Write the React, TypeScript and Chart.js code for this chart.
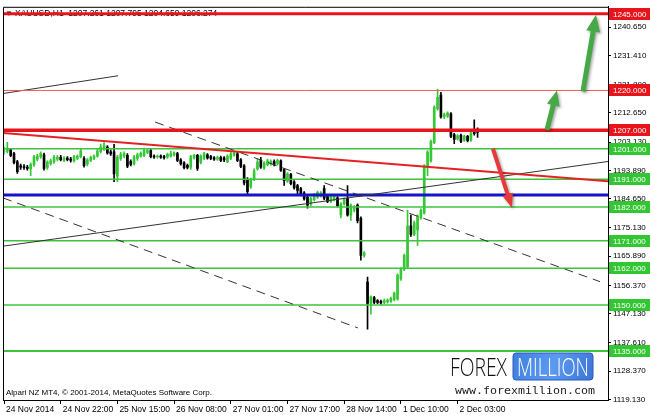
import React, { useEffect, useRef } from 'react';
import { Chart, registerables } from 'chart.js';
Chart.register(...registerables);

// ---- candle data (H1 bars, XAUUSD) ----
const opens = [
  1200.0, 1200.2, 1200.6, 1199.4, 1196.7, 1195.4, 1195.2, 1195.0, 1194.4, 1195.8,
  1197.6, 1198.4, 1199.0, 1194.9, 1196.2, 1196.8, 1197.6, 1198.2, 1197.2, 1197.9,
  1197.6, 1197.0, 1197.8, 1198.4, 1197.8, 1196.0, 1197.2, 1197.8, 1198.6, 1200.0,
  1200.8, 1201.5, 1200.0, 1200.0, 1192.0, 1197.8, 1198.6, 1198.8, 1196.8, 1196.0,
  1197.8, 1198.6, 1198.8, 1199.8, 1200.4, 1198.6, 1198.3, 1198.6, 1198.4, 1198.2,
  1198.6, 1199.0, 1199.4, 1197.4, 1196.4, 1195.6, 1195.0, 1198.0, 1198.8, 1196.6,
  1197.8, 1199.0, 1198.4, 1198.0, 1197.6, 1198.2, 1198.0, 1196.8, 1197.8, 1198.9,
  1199.3, 1197.4, 1195.4, 1191.0, 1188.5, 1191.0, 1194.4, 1197.3, 1194.7, 1195.8,
  1196.0, 1196.9, 1196.0, 1197.0, 1194.2, 1190.4, 1192.6, 1190.2, 1189.0, 1188.0,
  1186.6, 1185.2, 1182.9, 1184.4, 1185.2, 1185.6, 1188.0, 1185.4, 1183.8, 1184.4,
  1185.0, 1179.4, 1183.0, 1184.8, 1179.3, 1181.0, 1182.6, 1178.4, 1166.2, 1157.5,
  1150.5, 1152.4, 1151.4, 1151.2, 1150.8, 1151.0, 1151.2, 1151.7, 1152.0, 1158.5,
  1161.7, 1162.5, 1175.8, 1173.0, 1174.5, 1178.4, 1180.0, 1195.0, 1197.0, 1203.0,
  1214.0, 1218.5, 1211.4, 1211.6, 1212.4, 1205.6, 1204.2, 1205.4, 1203.8, 1205.0,
  1203.8, 1206.4, 1207.261,
];
const highs = [
  1201.5, 1203.1, 1201.0, 1199.8, 1197.2, 1196.0, 1195.8, 1195.6, 1196.4, 1198.8,
  1199.2, 1200.0, 1199.6, 1197.0, 1197.6, 1198.8, 1198.8, 1198.8, 1198.4, 1198.4,
  1198.2, 1198.8, 1199.0, 1200.8, 1198.4, 1197.8, 1198.6, 1199.0, 1201.0, 1202.5,
  1203.0, 1202.0, 1200.6, 1202.4, 1198.8, 1199.8, 1200.0, 1199.4, 1197.4, 1198.8,
  1199.6, 1200.0, 1201.2, 1200.8, 1200.8, 1199.0, 1198.9, 1199.0, 1198.8, 1199.6,
  1200.2, 1200.0, 1199.8, 1197.8, 1196.8, 1196.0, 1198.8, 1199.2, 1199.2, 1199.0,
  1199.8, 1199.4, 1198.8, 1198.4, 1198.6, 1198.6, 1198.4, 1199.0, 1199.8, 1200.2,
  1199.8, 1197.8, 1195.8, 1191.6, 1191.4, 1194.4, 1197.6, 1198.2, 1196.8, 1197.6,
  1197.4, 1197.4, 1197.6, 1197.4, 1194.6, 1193.2, 1193.0, 1190.6, 1189.4, 1188.4,
  1187.0, 1185.6, 1185.2, 1186.4, 1187.2, 1187.0, 1189.0, 1185.8, 1185.6, 1185.8,
  1185.4, 1183.4, 1185.0, 1189.0, 1183.0, 1182.4, 1183.0, 1178.8, 1167.4, 1159.1,
  1153.0, 1152.8, 1151.8, 1151.6, 1151.9, 1152.0, 1152.6, 1154.2, 1160.2, 1162.2,
  1166.6, 1180.9, 1179.3, 1177.4, 1179.4, 1181.4, 1195.8, 1200.4, 1203.8, 1215.0,
  1220.4, 1219.4, 1212.6, 1213.0, 1212.8, 1206.0, 1205.6, 1205.8, 1205.4, 1205.4,
  1206.6, 1210.4, 1207.795,
];
const lows = [
  1199.2, 1199.6, 1198.4, 1196.0, 1192.9, 1194.2, 1194.2, 1194.0, 1192.2, 1195.2,
  1197.0, 1197.8, 1194.0, 1194.2, 1195.6, 1196.2, 1197.0, 1197.0, 1196.8, 1197.0,
  1196.6, 1196.6, 1197.4, 1198.0, 1195.0, 1195.4, 1196.8, 1197.4, 1198.2, 1199.6,
  1200.4, 1199.2, 1198.8, 1190.2, 1190.2, 1197.2, 1198.0, 1194.8, 1195.4, 1195.6,
  1197.2, 1198.2, 1198.4, 1199.4, 1198.0, 1197.8, 1197.9, 1197.8, 1197.6, 1197.8,
  1198.2, 1198.6, 1196.8, 1195.6, 1194.4, 1194.4, 1194.2, 1197.6, 1193.9, 1196.0,
  1197.4, 1197.6, 1197.4, 1197.2, 1197.2, 1196.8, 1196.8, 1196.4, 1197.4, 1198.6,
  1196.8, 1194.8, 1189.2, 1185.7, 1188.0, 1190.6, 1194.0, 1194.6, 1194.2, 1195.4,
  1195.6, 1195.4, 1195.6, 1193.6, 1189.0, 1190.0, 1189.2, 1187.8, 1185.9, 1185.6,
  1184.2, 1181.6, 1182.4, 1184.0, 1184.8, 1185.2, 1184.4, 1183.4, 1183.4, 1184.0,
  1182.0, 1178.4, 1182.6, 1179.0, 1177.6, 1180.4, 1176.8, 1164.6, 1165.6, 1142.1,
  1147.0, 1150.4, 1150.4, 1150.3, 1150.4, 1150.6, 1150.8, 1151.3, 1151.6, 1158.0,
  1161.2, 1162.0, 1172.4, 1172.6, 1169.4, 1178.0, 1179.6, 1192.2, 1196.6, 1202.6,
  1213.6, 1211.0, 1210.8, 1211.2, 1204.6, 1202.6, 1203.8, 1203.0, 1203.4, 1203.2,
  1203.4, 1205.4, 1204.659,
];
const closes = [
  1200.3, 1200.9, 1198.8, 1196.4, 1193.5, 1195.0, 1194.8, 1194.6, 1195.8, 1198.4,
  1198.6, 1199.4, 1194.6, 1196.6, 1197.0, 1198.2, 1198.2, 1197.4, 1197.9, 1197.4,
  1197.2, 1198.4, 1198.5, 1200.2, 1195.5, 1197.4, 1198.2, 1198.6, 1200.2, 1201.5,
  1202.0, 1199.6, 1199.3, 1192.8, 1198.3, 1199.2, 1199.4, 1195.3, 1195.9, 1198.3,
  1199.0, 1199.5, 1200.5, 1200.4, 1198.4, 1198.3, 1198.6, 1198.2, 1198.1, 1199.2,
  1199.4, 1199.6, 1197.2, 1196.0, 1194.8, 1194.9, 1198.4, 1198.8, 1194.6, 1198.6,
  1199.3, 1198.0, 1197.8, 1197.6, 1198.1, 1197.2, 1197.3, 1198.6, 1199.3, 1199.5,
  1197.2, 1195.2, 1189.8, 1187.0, 1190.8, 1193.8, 1196.6, 1195.0, 1196.4, 1197.0,
  1196.9, 1195.8, 1197.2, 1193.9, 1190.6, 1192.8, 1189.6, 1188.2, 1187.4, 1186.0,
  1184.6, 1182.6, 1184.8, 1186.0, 1186.8, 1186.6, 1184.8, 1183.8, 1185.2, 1185.4,
  1182.4, 1183.0, 1184.6, 1179.3, 1182.6, 1181.9, 1177.5, 1166.2, 1167.0, 1150.5,
  1152.7, 1150.8, 1150.8, 1150.7, 1151.5, 1151.6, 1152.2, 1153.9, 1159.8, 1161.7,
  1166.2, 1175.8, 1173.0, 1176.8, 1179.0, 1180.9, 1195.4, 1199.9, 1203.4, 1214.6,
  1217.8, 1211.4, 1212.1, 1212.6, 1205.0, 1204.0, 1205.2, 1203.4, 1205.0, 1203.6,
  1206.2, 1205.9, 1206.274,
];

// ---- axes ----
const symbol = 'XAUUSD,H1';
const xRange = [-0.3, 181.1];
const xTickIndex = [0, 17, 34, 51, 68, 85, 102, 119, 136];
const xTickLabels = ['24 Nov 2014', '24 Nov 22:00', '25 Nov 15:00', '26 Nov 08:00', '27 Nov 01:00', '27 Nov 17:00', '28 Nov 14:00', '1 Dec 10:00', '2 Dec 03:00'];
const yRange = [1119.0, 1247.3];
const yTickValues = [1240.65, 1231.41, 1221.89, 1212.65, 1203.13, 1193.89, 1184.65, 1175.13, 1165.89, 1156.37, 1147.13, 1137.61, 1128.37, 1119.13];

// ---- horizontal levels ----
const redLevels = [1245, 1220, 1207];
const greenLevels = [1201, 1191, 1182, 1171, 1162, 1150, 1135];
const blueLevel = 1185.9;

// ---- trend lines (bar index, price) ----
const redTrendX = [-0.3, 181.1];
const redTrendY = [1206.16, 1190.4];
const shortTrendX = [-0.3, 34.2];
const shortTrendY = [1219.01, 1224.8];
const risingTrendX = [-0.3, 181.1];
const risingTrendY = [1169.19, 1196.83];
const dashUpperX = [45.3, 178.7];
const dashUpperY = [1209.69, 1157.62];
const dashLowerX = [-0.3, 106.1];
const dashLowerY = [1184.94, 1142.51];

// ---- arrows [x1, y1, x2, y2] in bar index / price ----
const greenArrowSmall = [162.8, 1207.12, 165.8, 1219.98];
const greenArrowBig = [173.6, 1219.66, 177.5, 1244.73];
const redArrow = [146.6, 1201.01, 152.3, 1181.73];

const BULL = '#35c835';
const BEAR = '#000000';
const LINE_GREEN = '#3cc43c';
const RED = '#e8141c';
const FONT = "'Liberation Sans', Arial, sans-serif";

function lineData(xs: number[], ys: number[]) {
  return xs.map((x, i) => ({ x, y: ys[i] }));
}

function drawArrow(ctx: CanvasRenderingContext2D, x1: number, y1: number, x2: number, y2: number, color: string, shaft: number, headL: number, headW: number) {
  const ang = Math.atan2(y2 - y1, x2 - x1);
  const len = Math.hypot(x2 - x1, y2 - y1);
  ctx.save();
  ctx.translate(x1, y1);
  ctx.rotate(ang);
  ctx.shadowColor = 'rgba(0,0,0,0.35)';
  ctx.shadowBlur = 3;
  ctx.shadowOffsetX = 1.5;
  ctx.shadowOffsetY = 1.5;
  ctx.fillStyle = color;
  ctx.beginPath();
  ctx.moveTo(0, -shaft / 2);
  ctx.lineTo(len - headL, -shaft / 2);
  ctx.lineTo(len - headL, -headW / 2);
  ctx.lineTo(len, 0);
  ctx.lineTo(len - headL, headW / 2);
  ctx.lineTo(len - headL, shaft / 2);
  ctx.lineTo(0, shaft / 2);
  ctx.closePath();
  ctx.fill();
  ctx.restore();
}

function fitText(ctx: CanvasRenderingContext2D, text: string, x: number, y: number, width: number) {
  const w = ctx.measureText(text).width;
  ctx.save();
  ctx.translate(x, y);
  ctx.scale(width / w, 1);
  ctx.fillText(text, 0, 0);
  ctx.restore();
}

const overlayPlugin = {
  id: 'mt4overlay',
  beforeDatasetsDraw(chart: any) {
    const ctx: CanvasRenderingContext2D = chart.ctx;
    const a = chart.chartArea;
    const n = closes.length - 1;
    ctx.save();
    ctx.fillStyle = '#000';
    ctx.font = `8px ${FONT}`;
    ctx.textBaseline = 'middle';
    ctx.fillText('\u25BC', a.left + 2, a.top + 7);
    ctx.font = `8.5px ${FONT}`;
    const txt = `${symbol}  ${opens[n].toFixed(3)} ${highs[n].toFixed(3)} ${lows[n].toFixed(3)} ${closes[n].toFixed(3)}`;
    ctx.fillText(txt, a.left + 12, a.top + 7);
    ctx.restore();
  },
  afterDatasetsDraw(chart: any) {
    const ctx: CanvasRenderingContext2D = chart.ctx;
    const xs = chart.scales.x;
    const ys = chart.scales.y;
    const a = chart.chartArea;
    const px = (v: number) => xs.getPixelForValue(v);
    const py = (v: number) => ys.getPixelForValue(v);
    drawArrow(ctx, px(greenArrowSmall[0]), py(greenArrowSmall[1]), px(greenArrowSmall[2]), py(greenArrowSmall[3]), '#46a846', 5, 15, 13);
    drawArrow(ctx, px(greenArrowBig[0]), py(greenArrowBig[1]), px(greenArrowBig[2]), py(greenArrowBig[3]), '#46a846', 5, 17, 14);
    drawArrow(ctx, px(redArrow[0]), py(redArrow[1]), px(redArrow[2]), py(redArrow[3]), '#e63a3a', 4, 14, 11);

    // watermark
    const R = a.right;
    const B = a.bottom;
    ctx.save();
    ctx.fillStyle = '#111';
    ctx.font = `300 26px 'Open Sans', sans-serif`;
    ctx.textBaseline = 'alphabetic';
    fitText(ctx, 'FOREX', R - 158, B - 24, 57);
    const bx = R - 95, by = B - 47, bw = 80, bh = 27;
    const g = ctx.createLinearGradient(bx, by, bx + bw, by + bh);
    g.addColorStop(0, '#3d7fe0');
    g.addColorStop(0.5, '#5c9af0');
    g.addColorStop(1, '#3a74d8');
    ctx.fillStyle = g;
    ctx.beginPath();
    (ctx as any).roundRect(bx, by, bw, bh, 3);
    ctx.fill();
    ctx.strokeStyle = '#2a5cb8';
    ctx.lineWidth = 1;
    ctx.stroke();
    ctx.fillStyle = '#ffffff';
    ctx.font = `300 26px 'Open Sans', sans-serif`;
    fitText(ctx, 'MILLION', bx + 4, B - 24, 72);
    ctx.fillStyle = '#222';
    ctx.font = `11px 'DejaVu Sans Mono', monospace`;
    fitText(ctx, 'www.forexmillion.com', R - 153, B - 6, 140);
    ctx.restore();
  },
  afterDraw(chart: any) {
    const ctx: CanvasRenderingContext2D = chart.ctx;
    const ys = chart.scales.y;
    const a = chart.chartArea;
    ctx.save();
    // frame (left/top)
    ctx.strokeStyle = '#000';
    ctx.lineWidth = 1;
    ctx.beginPath();
    ctx.moveTo(a.left + 0.5, a.bottom);
    ctx.lineTo(a.left + 0.5, a.top + 0.5);
    ctx.lineTo(a.right, a.top + 0.5);
    ctx.stroke();
    // footer
    ctx.fillStyle = '#000';
    ctx.font = `8px ${FONT}`;
    ctx.textBaseline = 'middle';
    ctx.fillText('Alpari NZ MT4, \u00A9 2001-2014, MetaQuotes Software Corp.', a.left + 3, a.bottom - 7);
    // level labels
    const box = (v: number, color: string) => {
      const y = Math.round(ys.getPixelForValue(v));
      ctx.fillStyle = color;
      ctx.fillRect(a.right + 1, y - 6, 41, 12);
      ctx.fillStyle = '#fff';
      ctx.font = `8px ${FONT}`;
      ctx.textBaseline = 'middle';
      ctx.fillText(v.toFixed(3), a.right + 5, y + 0.5);
    };
    redLevels.forEach((v) => box(v, RED));
    greenLevels.forEach((v) => box(v, '#33c633'));
    ctx.restore();
  },
};

export default function App() {
  const ref = useRef<HTMLCanvasElement>(null);
  useEffect(() => {
    const idx = closes.map((_, i) => i);
    const colors = idx.map((i) => (closes[i] >= opens[i] ? BULL : BEAR));
    const levelLine = (v: number, color: string, width: number, order: number) => ({
      type: 'line' as const,
      data: lineData(xRange, [v, v]),
      borderColor: color,
      borderWidth: width,
      pointRadius: 0,
      order,
    });
    const trend = (xsA: number[], ysA: number[], color: string, width: number, order: number, dash?: number[]) => ({
      type: 'line' as const,
      data: lineData(xsA, ysA),
      borderColor: color,
      borderWidth: width,
      borderDash: dash || [],
      pointRadius: 0,
      order,
    });
    const redWidths = [3, 1, 3.5];
    const datasets: any[] = [
      {
        type: 'bar',
        data: idx.map((i) => ({ x: i, y: [lows[i], highs[i]] })),
        backgroundColor: colors,
        barThickness: 1,
        grouped: false,
        order: 20,
      },
      {
        type: 'bar',
        data: idx.map((i) => ({ x: i, y: [opens[i], closes[i]] })),
        backgroundColor: colors,
        barThickness: 2,
        grouped: false,
        order: 19,
      },
      ...greenLevels.map((v) => levelLine(v, LINE_GREEN, v === 1135 ? 2 : 1.5, 10)),
      levelLine(blueLevel, '#1414c8', 3, 9),
      trend(risingTrendX, risingTrendY, '#333', 1, 8),
      trend(shortTrendX, shortTrendY, '#333', 1, 8),
      trend(dashUpperX, dashUpperY, '#333', 1, 8, [9, 6]),
      trend(dashLowerX, dashLowerY, '#333', 1, 8, [9, 6]),
      trend(redTrendX, redTrendY, '#e52222', 2, 7),
      ...redLevels.map((v, i) => levelLine(v, i === 1 ? '#f25a5a' : RED, redWidths[i], 5)),
    ];
    const chart = new Chart(ref.current as HTMLCanvasElement, {
      type: 'bar',
      data: { datasets },
      options: {
        animation: false,
        responsive: false,
        devicePixelRatio: 1,
        layout: { padding: { left: 3, top: 1, right: 0, bottom: 0 } },
        plugins: { legend: { display: false }, tooltip: { enabled: false } },
        scales: {
          x: {
            type: 'linear',
            offset: false,
            min: xRange[0],
            max: xRange[1],
            afterBuildTicks: (s: any) => {
              s.ticks = xTickIndex.map((v) => ({ value: v }));
            },
            afterFit: (s: any) => {
              s.height = 20;
            },
            grid: { display: true, offset: false, drawOnChartArea: false, drawTicks: true, tickLength: 4, tickColor: '#000' },
            border: { display: true, color: '#000', width: 1 },
            ticks: {
              autoSkip: false,
              maxRotation: 0,
              minRotation: 0,
              align: 'start',
              labelOffset: 2,
              padding: 1,
              color: '#000',
              font: { family: FONT, size: 8.5 },
              callback: (v: any) => {
                const k = xTickIndex.indexOf(Number(v));
                return k >= 0 ? xTickLabels[k] : '';
              },
            },
          },
          y: {
            type: 'linear',
            position: 'right',
            min: yRange[0],
            max: yRange[1],
            afterBuildTicks: (s: any) => {
              s.ticks = yTickValues.map((v) => ({ value: v }));
            },
            afterFit: (s: any) => {
              s.width = 42;
            },
            grid: { display: true, drawOnChartArea: false, drawTicks: true, tickLength: 3, tickColor: '#000' },
            border: { display: true, color: '#000', width: 1 },
            ticks: {
              padding: 2,
              color: '#000',
              font: { family: FONT, size: 8 },
              callback: (v: any) => Number(v).toFixed(3),
            },
          },
        },
      },
      plugins: [overlayPlugin],
    } as any);
    return () => chart.destroy();
  }, []);
  return (
    <div style={{ position: 'fixed', left: 0, top: 0, width: 650, height: 420, background: '#fff' }}>
      <canvas ref={ref} width={650} height={420} style={{ display: 'block', width: 650, height: 420 }} />
    </div>
  );
}
